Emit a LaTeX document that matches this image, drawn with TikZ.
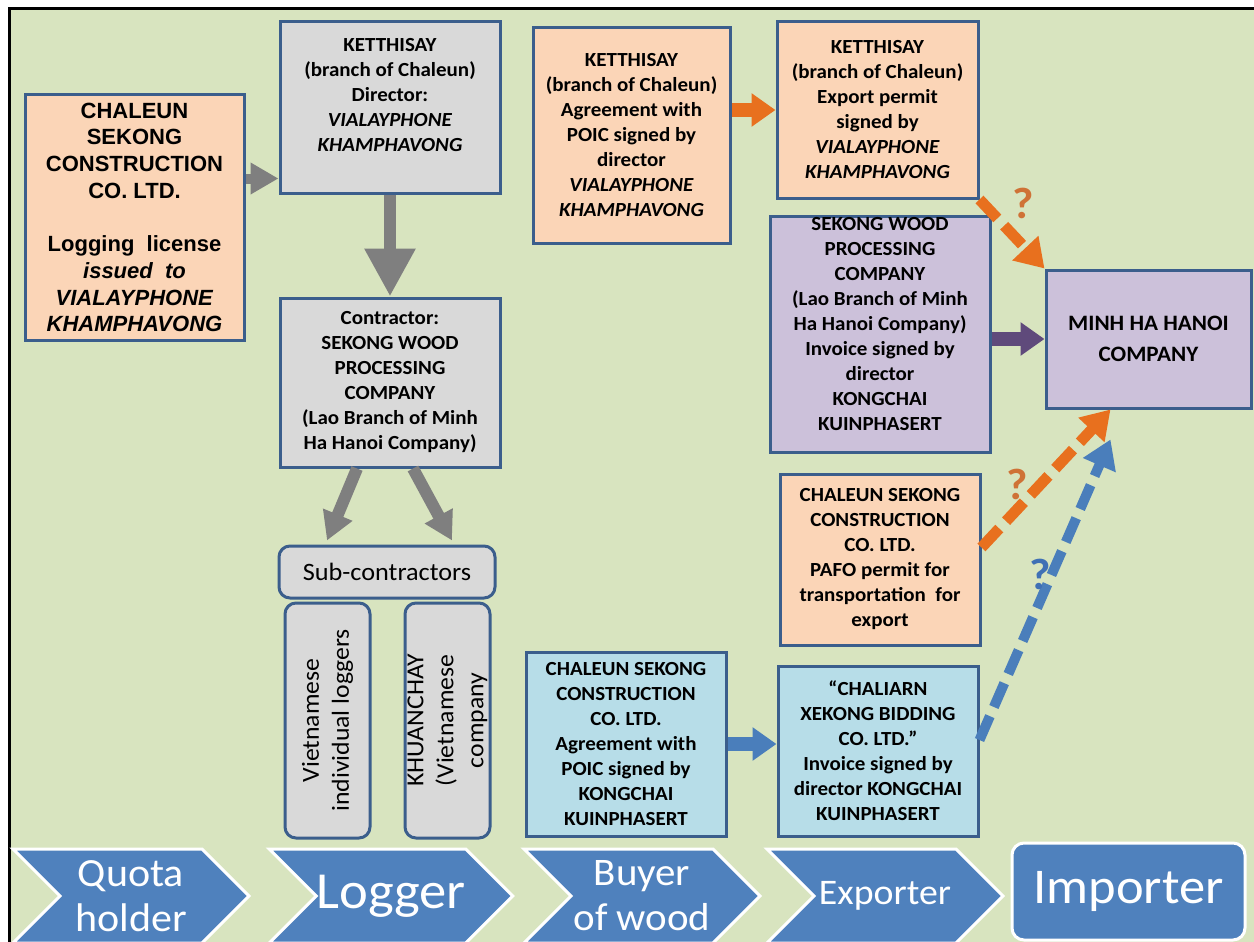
\documentclass[tikz,border=0pt]{standalone}
\usepackage{fontspec}
\setmainfont{Carlito}[FakeStretch=1.05]
\newfontfamily\arialfont{Liberation Sans}
\usetikzlibrary{arrows.meta,positioning,shapes.symbols}
\definecolor{bggreen}{HTML}{D8E4BF}
\definecolor{edgeblue}{HTML}{3B5E8C}
\definecolor{peach}{HTML}{FBD5B7}
\definecolor{boxgray}{HTML}{D9D9D9}
\definecolor{lilac}{HTML}{CCC1DA}
\definecolor{paleblue}{HTML}{B7DDE8}
\definecolor{arrgray}{HTML}{7F7F7F}
\definecolor{arrorange}{HTML}{E8701E}
\definecolor{arrpurple}{HTML}{5F4A7B}
\definecolor{arrblue}{HTML}{4A7EBB}
\definecolor{stageblue}{HTML}{4F81BD}
\definecolor{qorange}{HTML}{CF7236}
\definecolor{qblue}{HTML}{3F70B5}
\begin{document}
\begin{tikzpicture}[x=1pt,y=-1pt,
    box/.style={draw=edgeblue, line width=3pt, align=center, inner sep=0pt,
      font=\fontsize{20}{25}\selectfont\bfseries},
    subbox/.style={draw=edgeblue, fill=boxgray, line width=3pt, rounded corners=11pt,
      align=center, inner sep=0pt, font=\fontsize{24.5}{30}\selectfont},
    stage/.style={signal, signal from=west, signal to=east, signal pointer angle=90,
      fill=stageblue, draw=white, line width=3pt, text=white, inner sep=0pt,
      minimum width=236pt, minimum height=94pt, align=center},
    grayarr/.style={draw=arrgray, line width=12pt, -{Triangle[width=48pt,length=48pt]}},
    graysmall/.style={draw=arrgray, line width=10pt, -{Triangle[width=30pt,length=28pt]}},
    solidarr/.style={line width=14pt, -{Triangle[width=32pt,length=24pt]}},
    dasharr/.style={line width=11pt, dash pattern=on 26pt off 10pt,
      -{Triangle[width=34pt,length=28pt]}},
    qmark/.style={font=\fontsize{44}{44}\selectfont\bfseries}]
  % background
  \useasboundingbox (0,0) rectangle (1254,942);
  \fill[white] (0,0) rectangle (1254,942);
  \fill[bggreen] (9,9) rectangle (1254,942);
  \draw[line width=3pt] (9,942) -- (9,9) -- (1254,9);

  % quota holder and logger column
  \node[box, fill=peach, minimum width=219pt, minimum height=245pt,
    font=\arialfont\fontsize{22}{26.7}\selectfont\bfseries] (quota) at (134.5,217.5)
    {CHALEUN\\SEKONG\\CONSTRUCTION\\CO. LTD.\\[26.7pt]Logging\ \ license\\
     \textit{issued\ \ to}\\\textit{VIALAYPHONE}\\\textit{KHAMPHAVONG}};
  \node[box, fill=boxgray, minimum width=220pt, minimum height=171pt] (ketdir) at (390,107.5)
    {KETTHISAY\\(branch of Chaleun)\\Director:\\\textit{VIALAYPHONE}\\\textit{KHAMPHAVONG}\\\mbox{}};
  \node[box, fill=boxgray, minimum width=220pt, minimum height=169pt] (contractor) at (390,382.5)
    {Contractor:\\SEKONG WOOD\\PROCESSING\\COMPANY\\(Lao Branch of Minh\\Ha Hanoi Company)};
  \node[subbox, minimum width=216pt, minimum height=52pt, font=\fontsize{25}{30}\selectfont]
    (sub) at (387,572) {Sub-contractors};
  \node[subbox, rotate=90, minimum width=235pt, minimum height=85pt] (loggers) at (327.5,720.5)
    {Vietnamese\\individual loggers};
  \node[subbox, rotate=90, minimum width=235pt, minimum height=85pt] (khuan) at (447.5,720.5)
    {KHUANCHAY\\(Vietnamese\\company};

  % buyer and exporter columns
  \node[box, fill=peach, minimum width=197pt, minimum height=215pt] (agree) at (631.5,135.5)
    {KETTHISAY\\(branch of Chaleun)\\Agreement with\\POIC signed by\\director\\
     \textit{VIALAYPHONE}\\\textit{KHAMPHAVONG}};
  \node[box, fill=peach, minimum width=201pt, minimum height=176pt] (permit) at (877.5,110)
    {KETTHISAY\\(branch of Chaleun)\\Export permit\\signed by\\\textit{VIALAYPHONE}\\\textit{KHAMPHAVONG}};
  \node[box, fill=lilac, minimum width=220pt, minimum height=236pt] (sekong) at (880,334)
    {SEKONG WOOD\\PROCESSING\\COMPANY\\(Lao Branch of Minh\\Ha Hanoi Company)\\
     Invoice signed by\\director\\KONGCHAI\\KUINPHASERT\\[-5pt]\mbox{}};
  \node[box, fill=lilac, minimum width=205pt, minimum height=138pt,
    font=\fontsize{22}{31}\selectfont\bfseries] (minh) at (1148.5,339)
    {MINH HA HANOI\\COMPANY};
  \node[box, fill=peach, minimum width=200pt, minimum height=171pt] (pafo) at (880,559.5)
    {CHALEUN SEKONG\\CONSTRUCTION\\CO. LTD.\\PAFO permit for\\transportation\ \ for\\export};
  \node[box, fill=paleblue, minimum width=200pt, minimum height=184pt] (buyer) at (626,744)
    {CHALEUN SEKONG\\CONSTRUCTION\\CO. LTD.\\Agreement with\\POIC signed by\\KONGCHAI\\KUINPHASERT};
  \node[box, fill=paleblue, minimum width=200pt, minimum height=170pt] (chaliarn) at (878,751)
    {``CHALIARN\\XEKONG BIDDING\\CO. LTD.''\\Invoice signed by\\director KONGCHAI\\KUINPHASERT};

  % connectors
  \coordinate (gtip) at ([yshift=-71pt]ketdir.west);
  \draw[graysmall] (quota.east |- gtip) -- (gtip);
  \draw[grayarr] (ketdir.south) -- (contractor.north);
  \draw[grayarr, -{Triangle[width=30pt,length=28pt]}]
    ([xshift=-33pt]contractor.south) -- ([xshift=-60pt,yshift=4pt]sub.north);
  \draw[grayarr, -{Triangle[width=30pt,length=28pt]}]
    ([xshift=23pt]contractor.south) -- ([xshift=65pt,yshift=4pt]sub.north);
  \draw[solidarr, draw=arrorange, arrorange] (agree.east |- permit.west) -- (permit.west);
  \draw[solidarr, draw=arrpurple, arrpurple] (sekong.east |- minh.west) -- (minh.west);
  \draw[solidarr, draw=arrblue, arrblue] (buyer.east) -- (buyer.east -| chaliarn.west);
  \draw[dasharr, draw=arrorange, arrorange] (permit.south east) -- (minh.north west);
  \draw[dasharr, draw=arrorange, arrorange] ([yshift=12pt]pafo.east) -- ([xshift=-38pt]minh.south);
  \coordinate (bluetip) at ([xshift=-38pt,yshift=-30pt]minh.south);
  \draw[dasharr, line width=10pt, draw=arrblue, arrblue] ([yshift=11pt]chaliarn.east) -- (bluetip);
  \node[qmark, text=qorange] (q1) at (1023,203) {?};
  \node[qmark, text=qorange] (q2) at (1017,484) {?};
  \node[qmark, text=qblue] (q3) at (1040,574) {?};

  % stages
  \node[stage, font=\fontsize{40}{45}\selectfont] (s1) at (131,896) {Quota\\holder};
  \node[stage, font=\fontsize{52}{52}\selectfont] (s2) at (391,896) {Logger};
  \node[stage, font=\fontsize{39}{45}\selectfont] (s3) at (642,896) {Buyer\\of wood};
  \node[stage, font=\fontsize{36}{40}\selectfont] (s4) at (885,896) {Exporter};
  \node[draw=white, fill=stageblue, line width=3pt, rounded corners=12pt, text=white,
    minimum width=233pt, minimum height=97pt, font=\fontsize{50}{50}\selectfont]
    (s5) at (1128.5,891.5) {Importer};
\end{tikzpicture}
\end{document}
